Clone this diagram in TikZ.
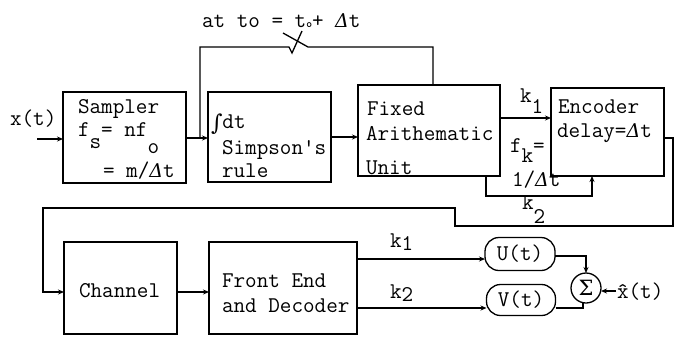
\documentclass[tikz,border=0pt]{standalone}
\usepackage{fontspec}
\usetikzlibrary{arrows.meta}
\newfontfamily\symfont{DejaVu Serif}
% lowered full-size character, typewriter-style subscript
\newcommand{\dn}[2]{\raisebox{-#1pt}{#2}}
\newcommand{\dlt}{{\symfont\itshape\fontsize{19}{20}\selectfont Δ}}
\newcommand{\intg}{\raisebox{-2pt}{\symfont\fontsize{22}{22}\selectfont ∫}}
\begin{document}
\begin{tikzpicture}[x=1pt,y=-1pt,line width=1.3pt,
  every node/.style={font=\ttfamily\fontsize{22.5}{24}\selectfont,inner sep=0pt,outer sep=0pt,line width=1.3pt},
  blk/.style={draw,anchor=north west},
  txt/.style={anchor=base west},
  pill/.style={draw,rounded corners=14pt},
  arr/.style={-{Stealth[length=6pt,width=5pt]}}]
\useasboundingbox (0,0) rectangle (676,338);

% ---- blocks ----
\node[blk,minimum width=123pt,minimum height=91pt] (samp) at (63,92) {};
\node[blk,minimum width=123pt,minimum height=90pt] (integ) at (208,92) {};
\node[blk,minimum width=142pt,minimum height=91pt] (fau) at (358,85) {};
\node[blk,minimum width=113pt,minimum height=88pt] (enc) at (551,88) {};
\node[blk,minimum width=113pt,minimum height=92pt] (chan) at (64,242) {};
\node[blk,minimum width=148pt,minimum height=92pt] (fed) at (209,242) {};
\node[pill,minimum width=70pt,minimum height=33pt] (U) at (520,254) {U(t)};
\node[pill,minimum width=69pt,minimum height=31pt] (V) at (521,300) {V(t)};
\node[draw,circle,minimum size=30pt] (sig) at (586,288) {\symfont\fontsize{21}{21}\selectfont Σ};

% ---- block texts ----
\node[txt] at (78,113) {Sampler};
\node[txt] at (78,136) {f\dn{12}{s}= nf\dn{17}{o}};
\node[txt] at (103,177) {= m/\dlt t};
\node[txt] at (211,128) {\intg dt};
\node[txt] at (222,154) {Simpson's};
\node[txt] at (222,177) {rule};
\node[txt] at (367,115) {Fixed};
\node[txt] at (366,140) {Arithematic};
\node[txt] at (366,174) {Unit};
\node[txt] at (558,113) {Encoder};
\node[txt] at (557,137) {delay=\dlt t};
\node[txt] at (79,297) {Channel};
\node[txt] at (222,287) {Front End};
\node[txt] at (222,312) {and Decoder};

% ---- labels ----
\node[txt] (xlab) at (10,125) {x(t)};
\node[txt] (tlab) at (202,27) {at to = t{\fontsize{11}{11}\selectfont\bfseries o}+ \dlt t};
\node[txt] at (520,102) {k\dn{11}{1}};
\node[txt] at (510,152) {f\dn{10}{k}=};
\node[txt] at (512,186) {1/\dlt t};
\node[txt] at (522,209) {k\dn{14}{2}};
\node[txt] at (390,247) {k\dn{3}{1}};
\node[txt] at (390,298) {k\dn{3}{2}};
\node[txt] (xh) at (617,298) {\^x(t)};

% ---- top row connections ----
\coordinate (xin) at (37,139);
\draw[arr] (xin) -- (xin -| samp.west);
\draw[arr] (samp.east |- 0,138) -- (integ.west |- 0,138);
\draw[arr] (integ.east |- 0,137) -- (fau.west |- 0,137);
\draw[arr] (fau.east |- 0,118) -- (enc.west |- 0,118);

% feedback through the switch
\coordinate (fb1) at (433,47);
\coordinate (swr) at (308,47);
\coordinate (swa) at (283,33);
\coordinate (swb) at (302,31);
\coordinate (swc) at (292,53);
\coordinate (swl) at (289,47);
\coordinate (fb2) at (200,47);
\draw (fau.north -| fb1) -- (fb1) -- (swr) -- (swa);
\draw (swb) -- (swc) -- (swl) -- (fb2) -- (fb2 |- 0,138);

% rate branch into the encoder
\coordinate (r1) at (486,196);
\coordinate (r2) at (592,196);
\draw[arr] (fau.south -| r1) -- (r1) -- (r2) -- (r2 |- enc.south);

% encoder output down to the channel
\coordinate (e1) at (673,138);
\coordinate (e2) at (673,226);
\coordinate (e3) at (455,226);
\coordinate (e4) at (455,208);
\coordinate (e5) at (43,208);
\coordinate (e6) at (43,292);
\draw[arr] (enc.east |- e1) -- (e1) -- (e2) -- (e3) -- (e4) -- (e5) -- (e6) -- (e6 -| chan.west);

% ---- bottom row connections ----
\draw[arr] (chan.east |- 0,292) -- (fed.west |- 0,292);
\draw[arr] (fed.east |- 0,259) -- (U.west |- 0,259);
\draw[arr] (fed.east |- 0,308) -- (V.west |- 0,308);
\coordinate (u1) at (586,256);
\draw[arr] (U.east |- u1) -- (u1) -- (sig.north);
\coordinate (v1) at (583,308);
\draw (V.east |- v1) -- (v1) -- (v1 |- sig.south);
\coordinate (xo) at (616,291);
\draw[arr] (xo) -- (xo -| sig.east);
\end{tikzpicture}
\end{document}
